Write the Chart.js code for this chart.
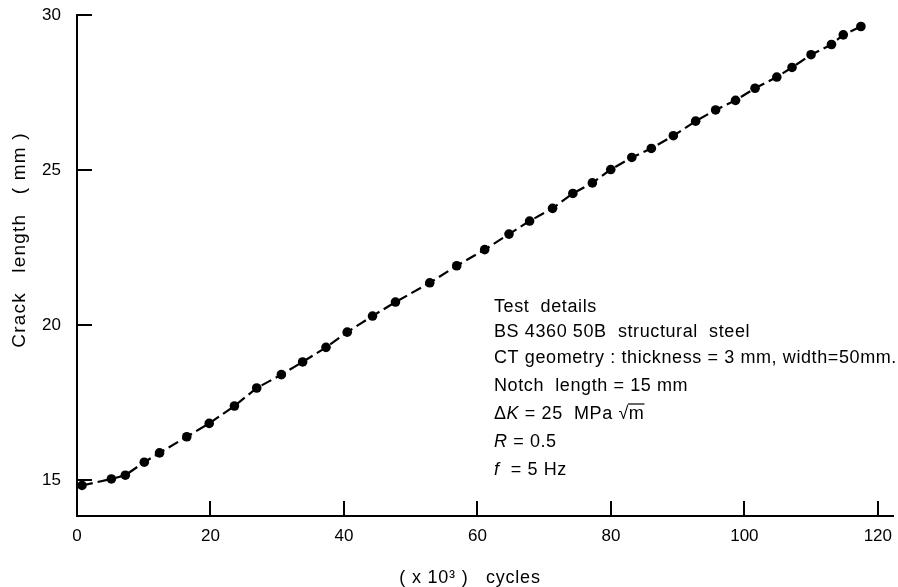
<!DOCTYPE html>
<html><head><meta charset="utf-8">
<script src="https://cdn.jsdelivr.net/npm/chart.js@4/dist/chart.umd.min.js"></script>
<style>html,body{margin:0;padding:0;background:#fff;}#wrap{width:898px;height:587px;}</style>
</head><body><div id="wrap"><canvas id="c" width="898" height="587"></canvas></div>
<script>
// ---- data ----
const cycles = [0.75, 5.15, 7.24, 10.08, 12.37, 16.45, 19.81, 23.59, 26.93, 30.62, 33.81, 37.31, 40.49,
  44.28, 47.72, 52.86, 56.90, 61.09, 64.73, 67.82, 71.26, 74.30, 77.22, 79.98, 83.13, 86.06, 89.36,
  92.70, 95.69, 98.68, 101.60, 104.86, 107.14, 109.99, 113.05, 114.82, 117.46];
const crackLength = [14.84, 15.05, 15.17, 15.59, 15.89, 16.41, 16.84, 17.40, 17.98, 18.41, 18.82, 19.29, 19.78,
  20.30, 20.75, 21.37, 21.92, 22.44, 22.94, 23.36, 23.77, 24.25, 24.59, 25.02, 25.41, 25.70, 26.11,
  26.58, 26.94, 27.25, 27.64, 28.00, 28.31, 28.72, 29.05, 29.36, 29.63];
const xTicks = [0, 20, 40, 60, 80, 100, 120];
const yTicks = [15, 20, 25, 30];
const xTitle = '( x 10\u00B3 )   cycles';
const yTitle = 'Crack   length   ( mm )';
const noteTitle = 'Test  details';
const noteMaterial = 'BS 4360 50B  structural  steel';
const noteGeometry = 'CT geometry : thickness = 3 mm, width=50mm.';
const noteNotch = 'Notch  length = 15 mm';

const FONT = '"Liberation Sans", Arial, sans-serif';

const points = cycles.map((c, i) => ({x: c, y: crackLength[i]}));

const decor = {
  id: 'decor',
  afterDraw(chart) {
    const ctx = chart.ctx, xs = chart.scales.x, ys = chart.scales.y, a = chart.chartArea;
    ctx.save();
    ctx.strokeStyle = '#000';
    ctx.lineWidth = 2;
    // inward tick marks
    xTicks.forEach(v => {
      if (v === 0) return;
      const px = Math.round(xs.getPixelForValue(v));
      ctx.beginPath(); ctx.moveTo(px, a.bottom); ctx.lineTo(px, a.bottom - 15); ctx.stroke();
    });
    yTicks.forEach(v => {
      const py = Math.round(ys.getPixelForValue(v));
      ctx.beginPath(); ctx.moveTo(a.left, py); ctx.lineTo(a.left + 15, py); ctx.stroke();
    });
    ctx.fillStyle = '#000';
    // axis titles
    ctx.font = '18px ' + FONT;
    ctx.letterSpacing = '0.8px';
    ctx.textAlign = 'center';
    ctx.textBaseline = 'alphabetic';
    ctx.fillText(xTitle, 470, 583);
    ctx.save();
    ctx.font = '19px ' + FONT;
    ctx.letterSpacing = '1.2px';
    ctx.translate(25, 240);
    ctx.rotate(-Math.PI / 2);
    ctx.fillText(yTitle, 0, 0);
    ctx.restore();
    // test details block
    ctx.textAlign = 'left';
    ctx.letterSpacing = '0.6px';
    const x0 = 494;
    const normal = '18px ' + FONT, ital = 'italic 18px ' + FONT;
    ctx.font = normal;
    ctx.fillText(noteTitle, x0, 312);
    ctx.fillText(noteMaterial, x0, 337);
    ctx.fillText(noteGeometry, x0, 363);
    ctx.fillText(noteNotch, x0, 391);
    // Delta K line
    let x = x0, y = 419;
    const seg = (t, f) => { ctx.font = f; ctx.fillText(t, x, y); x += ctx.measureText(t).width; };
    seg('\u0394', normal); seg('K', ital); seg(' = 25  MPa ', normal);
    seg('\u221A', normal);
    const mx = x; seg('m', normal);
    ctx.lineWidth = 1.2;
    ctx.beginPath(); ctx.moveTo(mx - 1, y - 15); ctx.lineTo(x, y - 15); ctx.stroke();
    // R line
    x = x0; y = 447;
    seg('R', ital); seg(' = 0.5', normal);
    // f line
    x = x0; y = 475;
    seg('f', ital); seg('  = 5 Hz', normal);
    ctx.restore();
  }
};

new Chart(document.getElementById('c'), {
  type: 'scatter',
  data: {
    datasets: [{
      data: points,
      showLine: true,
      borderColor: '#000',
      borderWidth: 2.2,
      borderDash: [11, 5],
      pointRadius: 4.8,
      pointHoverRadius: 4.8,
      pointBackgroundColor: '#000',
      pointBorderColor: '#000',
      pointBorderWidth: 0,
      tension: 0
    }]
  },
  options: {
    responsive: false,
    animation: false,
    devicePixelRatio: 1,
    layout: {padding: {top: 15, right: 0, left: 0, bottom: 0}},
    plugins: {legend: {display: false}, tooltip: {enabled: false}},
    scales: {
      x: {
        type: 'linear', min: 0, max: 122.3,
        afterBuildTicks: s => { s.ticks = xTicks.map(v => ({value: v})); },
        afterFit: s => { s.height = 71; },
        grid: {display: false},
        border: {display: true, color: '#000', width: 2},
        ticks: {color: '#000', font: {family: FONT, size: 17}, padding: 2, maxRotation: 0}
      },
      y: {
        type: 'linear', min: 13.856, max: 30,
        afterBuildTicks: s => { s.ticks = yTicks.map(v => ({value: v})); },
        afterFit: s => { s.width = 77; s.paddingTop = 0; s.paddingBottom = 0; },
        grid: {display: false},
        border: {display: true, color: '#000', width: 2},
        ticks: {color: '#000', font: {family: FONT, size: 17}, padding: 8}
      }
    }
  },
  plugins: [decor]
});
</script></body></html>
